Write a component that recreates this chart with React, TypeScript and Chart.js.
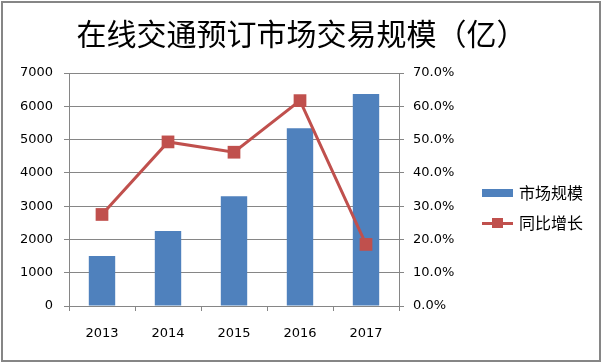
import React, { useEffect, useRef } from "react";
import { Chart, registerables } from "chart.js";

Chart.register(...registerables);

const titleText = "在线交通预订市场交易规模（亿）";
const categories = ["2013", "2014", "2015", "2016", "2017"];
const seriesNames = ["市场规模", "同比增长"];
const marketSize = [1500, 2250, 3300, 5340, 6370];
const growthPct = [27.5, 49.3, 46.2, 61.7, 18.5];
const leftMax = 7000;
const leftStep = 1000;
const rightMax = 70;
const rightStep = 10;

const BLUE = "#4F81BD";
const RED = "#C0504D";
const GRID = "#868686";
const TICK_FONT = { family: "'DejaVu Sans', sans-serif", size: 13 };
const CJK = "'Noto Sans CJK SC', sans-serif";

function makeBarIcon(): HTMLCanvasElement {
  const c = document.createElement("canvas");
  c.width = 42;
  c.height = 8;
  const ctx = c.getContext("2d")!;
  ctx.fillStyle = BLUE;
  ctx.fillRect(0, 0, 31, 8);
  return c;
}

function makeLineIcon(): HTMLCanvasElement {
  const c = document.createElement("canvas");
  c.width = 42;
  c.height = 10;
  const ctx = c.getContext("2d")!;
  ctx.fillStyle = RED;
  ctx.fillRect(0, 4, 31, 3);
  ctx.fillRect(10, 0, 11, 10);
  return c;
}

const framePlugin = {
  id: "frame",
  afterLayout(chart: any) {
    const lg = chart.legend;
    if (lg) {
      lg.left = 481;
      lg.right = 600;
      lg.width = lg.right - lg.left;
    }
  },
  beforeDraw(chart: any) {
    const ctx = chart.ctx;
    ctx.save();
    ctx.fillStyle = "#ffffff";
    ctx.fillRect(0, 0, chart.width, chart.height);
    ctx.restore();
  },
  afterDraw(chart: any) {
    const ctx = chart.ctx;
    ctx.save();
    ctx.strokeStyle = GRID;
    ctx.lineWidth = 2;
    ctx.strokeRect(2, 2, 598, 359);
    ctx.restore();
  },
};

export default function App() {
  const ref = useRef<HTMLCanvasElement | null>(null);

  useEffect(() => {
    document.body.style.margin = "0";
    const canvas = ref.current!;
    const barIcon = makeBarIcon();
    const lineIcon = makeLineIcon();
    const chart = new Chart(canvas, {
      type: "bar",
      data: {
        labels: categories,
        datasets: [
          {
            type: "bar",
            label: seriesNames[0],
            data: marketSize,
            backgroundColor: BLUE,
            borderWidth: 0,
            yAxisID: "y",
            order: 1,
            barPercentage: 0.4,
            categoryPercentage: 1,
          },
          {
            type: "line",
            label: seriesNames[1],
            data: growthPct,
            borderColor: RED,
            backgroundColor: RED,
            borderWidth: 3,
            pointStyle: "rect",
            pointRadius: 9,
            pointBackgroundColor: RED,
            pointBorderColor: RED,
            pointBorderWidth: 0,
            tension: 0,
            yAxisID: "y1",
            order: 0,
          },
        ],
      },
      options: {
        responsive: false,
        animation: false,
        devicePixelRatio: 1,
        layout: { padding: { left: 20, right: 20, top: 0, bottom: 0 } },
        plugins: {
          tooltip: { enabled: false },
          title: {
            display: true,
            text: titleText,
            color: "#000",
            font: { family: CJK, size: 30, weight: "normal" },
            padding: { top: 16, bottom: 21 },
          },
          legend: {
            display: true,
            position: "right",
            align: "center",
            maxWidth: 92,
            title: {
              display: true,
              text: " ",
              color: "rgba(0,0,0,0)",
              font: { size: 10 },
              padding: { top: 41, bottom: 0 },
            },
            labels: {
              usePointStyle: true,
              pointStyleWidth: 16,
              boxHeight: 16,
              padding: 14,
              color: "#000",
              font: { family: CJK, size: 16 },
              sort: (a: any, b: any) => a.datasetIndex - b.datasetIndex,
              generateLabels: (ch: any) => {
                const items = Chart.defaults.plugins.legend.labels.generateLabels(ch);
                return items.map((it: any) => ({
                  ...it,
                  pointStyle: it.datasetIndex === 0 ? barIcon : lineIcon,
                  fontColor: "#000",
                }));
              },
            },
          },
        },
        scales: {
          x: {
            offset: true,
            grid: {
              offset: true,
              drawOnChartArea: false,
              drawTicks: true,
              tickLength: 5,
              color: GRID,
            },
            border: { display: true, color: GRID, width: 1 },
            ticks: { color: "#000", font: TICK_FONT, padding: 15, maxRotation: 0 },
            afterFit: (s: any) => {
              s.height = 57;
            },
          },
          y: {
            position: "left",
            min: 0,
            max: leftMax,
            ticks: {
              stepSize: leftStep,
              color: "#000",
              font: TICK_FONT,
              padding: 11,
              callback: (v: any) => String(v),
            },
            grid: { color: GRID, tickLength: 5, drawTicks: true },
            border: { display: true, color: GRID, width: 1 },
            afterFit: (s: any) => {
              s.width = 49;
            },
          },
          y1: {
            position: "right",
            min: 0,
            max: rightMax,
            ticks: {
              stepSize: rightStep,
              color: "#000",
              font: TICK_FONT,
              padding: 9,
              callback: (v: any) => Number(v).toFixed(1) + "%",
            },
            grid: { drawOnChartArea: false, color: GRID, tickLength: 5, drawTicks: true },
            border: { display: true, color: GRID, width: 1 },
            afterFit: (s: any) => {
              s.width = 92;
            },
          },
        },
      },
      plugins: [framePlugin],
    } as any);
    return () => chart.destroy();
  }, []);

  return (
    <div style={{ width: 603, height: 363, position: "relative" }}>
      <canvas ref={ref} width={603} height={363} />
    </div>
  );
}
